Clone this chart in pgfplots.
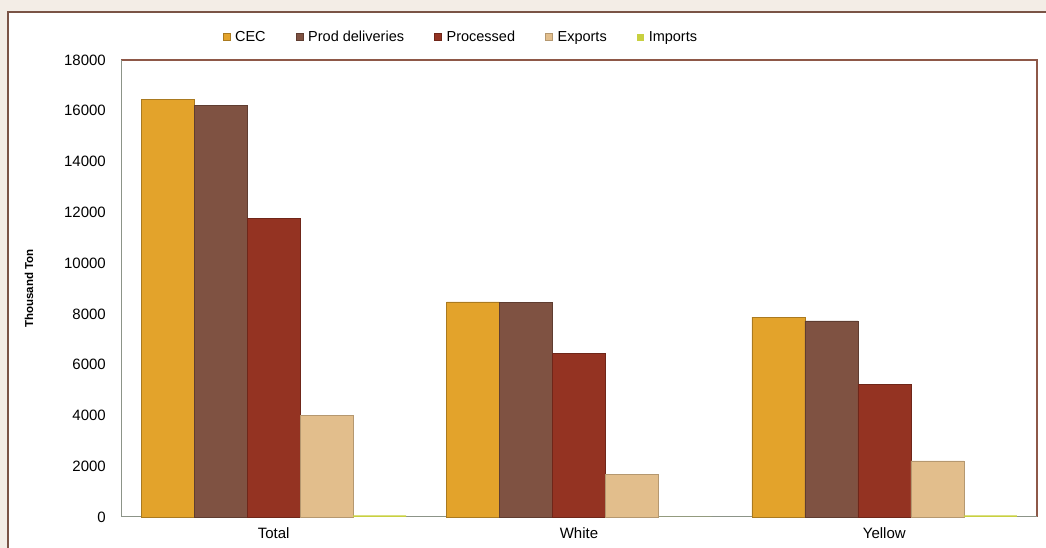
\documentclass[border=0pt]{standalone}
\usepackage{fontspec}
\setmainfont{Liberation Sans}
\usepackage{pgfplots}
\pgfplotsset{compat=1.18}

\definecolor{cec}{HTML}{E3A32B}
\definecolor{prod}{HTML}{7F5242}
\definecolor{proc}{HTML}{943322}
\definecolor{expo}{HTML}{E2BE8C}
\definecolor{impo}{HTML}{C8D040}
\definecolor{bgbeige}{HTML}{F3EDE6}
\definecolor{framebrown}{HTML}{7A5446}
\definecolor{plotbrown}{HTML}{8E5848}
\definecolor{axisgray}{HTML}{8C9488}

\begin{document}
\begin{tikzpicture}
\useasboundingbox (0,0) rectangle (1046pt,548pt);
\clip (0,0) rectangle (1046pt,548pt);
\fill[bgbeige] (0,0) rectangle (1046pt,548pt);
\filldraw[fill=white, draw=framebrown, line width=1.5pt] (8pt,-20pt) rectangle (1070pt,536pt);
\begin{axis}[
    at={(121pt,31pt)}, anchor=south west,
    scale only axis,
    width=916pt, height=457pt,
    clip=false,
    ybar=0pt, bar width=53pt,
    xmin=-0.5, xmax=2.5,
    ymin=0, ymax=18000,
    xtick={0,1,2},
    xticklabels={Total,White,Yellow},
    ytick={0,2000,...,18000},
    scaled y ticks=false,
    /pgf/number format/.cd, 1000 sep={}, assume math mode=true, /pgfplots/.cd,
    major tick length=0pt,
    axis line style={draw=none},
    tick label style={font=\fontsize{15}{18}\selectfont},
    y tick label style={inner sep=0pt, xshift=-15pt},
    x tick label style={inner sep=0pt, yshift=-10pt},
    ylabel={Thousand Ton},
    ylabel style={at={(axis description cs:-0.1004,0.5)}, anchor=center,
        font=\fontsize{11.5}{13}\selectfont\bfseries},
    legend columns=5,
    legend style={at={(0.371,1.050)}, anchor=center, draw=none, fill=none,
        font=\fontsize{14.5}{17}\selectfont,
        /tikz/every even column/.append style={column sep=28pt},
        /tikz/every odd column/.append style={column sep=3pt}},
    legend image code/.code={\fill[#1] (0pt,-3.5pt) rectangle (7pt,3.5pt);},
]
% plot area frame first, so the bars sit on top of it
\draw[plotbrown, line width=1.3pt] (rel axis cs:0,1) -- (rel axis cs:1,1) -- (rel axis cs:1,0);
\draw[axisgray, line width=1pt] (rel axis cs:0,1) -- (rel axis cs:0,0) -- (rel axis cs:1,0);
\addplot[fill=cec, draw=cec!75!black, line width=0.5pt] coordinates {(0,16450) (1,8470) (2,7870)};
\addplot[fill=prod, draw=prod!75!black, line width=0.5pt] coordinates {(0,16200) (1,8450) (2,7720)};
\addplot[fill=proc, draw=proc!75!black, line width=0.5pt] coordinates {(0,11760) (1,6450) (2,5230)};
\addplot[fill=expo, draw=expo!80!black, line width=0.5pt] coordinates {(0,4010) (1,1670) (2,2210)};
\addplot[fill=impo, draw=none] coordinates {(0,60) (1,0) (2,60)};
\legend{CEC,Prod deliveries,Processed,Exports,Imports}
\end{axis}
\end{tikzpicture}
\end{document}
